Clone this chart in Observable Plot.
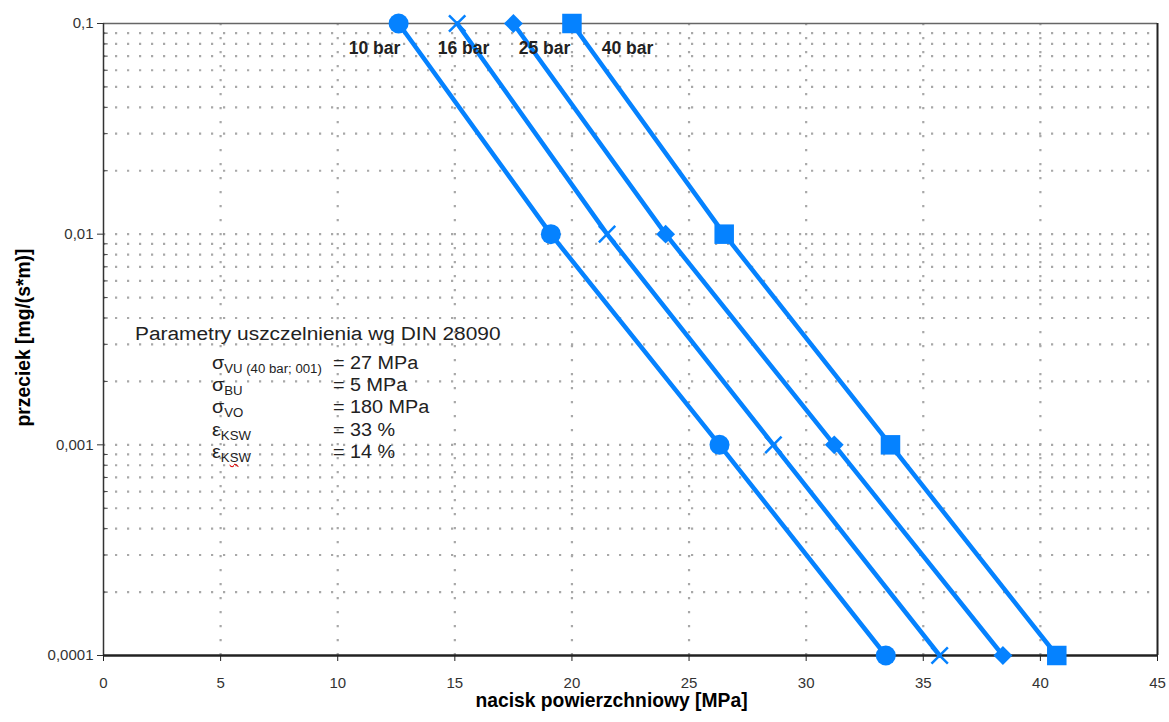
<!DOCTYPE html>
<html>
<head>
<meta charset="utf-8">
<script src="https://cdn.jsdelivr.net/npm/d3@7"></script>
<script src="https://cdn.jsdelivr.net/npm/@observablehq/plot@0.6"></script>
<style>
  html, body { margin: 0; padding: 0; background: #fff; }
  #wrap { position: relative; width: 1169px; height: 722px; font-family: "Liberation Sans", Arial, sans-serif; }
  g[aria-label="x-axis label"], g[aria-label="y-axis label"] { font-weight: bold; font-size: 19.3px; fill: #000; }
  g[aria-label="x-axis label"] text, g[aria-label="y-axis label"] text { font-weight: bold; font-size: 19.3px; fill: #000; }
  g[aria-label="x-axis label"] { translate: -19px 0px; }
  g[aria-label="y-axis label"] { translate: -5px -2px; }
  .leg { position: absolute; color: #222; font-size: 18px; white-space: nowrap; line-height: 1; transform-origin: left top; }
  .leg.title { transform: scaleX(1.16); }
  .leg.row { transform: scaleX(1.1); }
  .leg sub { font-size: 12px; vertical-align: -4px; }
  .wavy { text-decoration: underline wavy #d00; text-decoration-thickness: 1px; }
</style>
</head>
<body>
<div id="wrap"></div>
<script>
// ---- data ----
const series = ["10 bar", "16 bar", "25 bar", "40 bar"];
const leak = [0.1, 0.01, 0.001, 0.0001];
const p10 = [12.6, 19.1, 26.3, 33.4];
const p16 = [15.1, 21.5, 28.6, 35.7];
const p25 = [17.5, 24.0, 31.2, 38.4];
const p40 = [20.0, 26.5, 33.6, 40.7];
const labelX = [11.57, 15.37, 18.83, 22.37];
const xTicks = [0, 5, 10, 15, 20, 25, 30, 35, 40, 45];
const yTicks = [0.1, 0.01, 0.001, 0.0001];
const yTickLabels = ["0,1", "0,01", "0,001", "0,0001"];
const xGrid = [5, 10, 15, 20, 25, 30, 35, 40];
const minorFactors = [2, 3, 4, 5, 6, 7, 8, 9];
const decades = [0.0001, 0.001, 0.01];

const pressures = [p10, p16, p25, p40];
const rows = series.flatMap((s, i) => pressures[i].map((p, j) => ({series: s, p, leak: leak[j]})));
const yMinor = decades.flatMap(d => minorFactors.map(f => +(d * f).toPrecision(3)));
const yGrid = yMinor.concat([0.01, 0.001]);

const blue = "#0582ff";
const of = s => rows.filter(r => r.series === s);

const chart = Plot.plot({
  width: 1169,
  height: 722,
  marginLeft: 103,
  marginRight: 12,
  marginTop: 23,
  marginBottom: 67,
  x: {domain: [0, 45]},
  y: {type: "log", domain: [0.0001, 0.1]},
  style: {fontFamily: "'Liberation Sans', Arial, sans-serif", fontSize: "15px", color: "#333", background: "white"},
  marks: [
    Plot.ruleY(yGrid, {stroke: "#a8a8a8", strokeWidth: 2.2, strokeDasharray: "2.2,9.8"}),
    Plot.ruleX(xGrid, {stroke: "#a8a8a8", strokeWidth: 2.2, strokeDasharray: "2.2,11.8"}),
    Plot.ruleY(yMinor, {x1: 0, x2: 0.2, stroke: "#444", strokeWidth: 1}),
    Plot.ruleY([0.1], {stroke: "#666", strokeWidth: 1.5}),
    Plot.ruleX([45], {stroke: "#222", strokeWidth: 2}),
    Plot.ruleX([0], {stroke: "#333", strokeWidth: 1.5}),
    Plot.ruleY([0.0001], {stroke: "#222", strokeWidth: 2.5}),
    Plot.axisX({ticks: xTicks, tickSize: 6, tickPadding: 16, fontSize: 15, stroke: "#222", label: "nacisk powierzchniowy [MPa]", labelAnchor: "center", labelArrow: "none", labelOffset: 51}),
    Plot.axisY({ticks: yTicks, tickFormat: d => yTickLabels[yTicks.indexOf(d)], tickSize: 6, tickPadding: 4, fontSize: 15, stroke: "#333", label: "przeciek [mg/(s*m)]", labelAnchor: "center", labelArrow: "none", labelOffset: 82}),
    Plot.line(rows, {x: "p", y: "leak", z: "series", stroke: blue, strokeWidth: 4.5}),
    Plot.dot(of("10 bar"), {x: "p", y: "leak", symbol: "circle", r: 10, fill: blue}),
    Plot.dot(of("16 bar"), {x: "p", y: "leak", symbol: "times", r: 7.5, stroke: blue, strokeWidth: 2.5}),
    Plot.dot(of("25 bar"), {x: "p", y: "leak", symbol: "diamond2", r: 8.5, fill: blue}),
    Plot.dot(of("40 bar"), {x: "p", y: "leak", symbol: "square", r: 11, fill: blue}),
    Plot.text(series, {x: labelX, y: [0.1, 0.1, 0.1, 0.1], text: d => d, dy: 25, fontWeight: "bold", fontSize: 17.5, fill: "#222"})
  ]
});
const wrap = document.getElementById("wrap");
wrap.appendChild(chart);

// ---- annotation block ----
const legTitle = "Parametry uszczelnienia wg DIN 28090";
const legSyms = ["σ", "σ", "σ", "ε", "ε"];
const legSubs = ["VU (40 bar; 001)", "BU", "VO", "KSW", "K<span class='wavy'>S</span>W"];
const legVals = ["= 27 MPa", "= 5 MPa", "= 180 MPa", "= 33 %", "= 14 %"];

function addLeg(html, cls, left, top) {
  const el = document.createElement("div");
  el.className = "leg " + cls;
  el.style.left = left + "px";
  el.style.top = top + "px";
  el.innerHTML = html;
  wrap.appendChild(el);
}
addLeg(legTitle, "title", 135, 325);
legSyms.forEach((s, i) => {
  const top = 354 + i * 22.2;
  addLeg(s + "<sub>" + legSubs[i] + "</sub>", "row", 212, top);
  addLeg(legVals[i], "row", 333, top);
});
</script>
</body>
</html>
